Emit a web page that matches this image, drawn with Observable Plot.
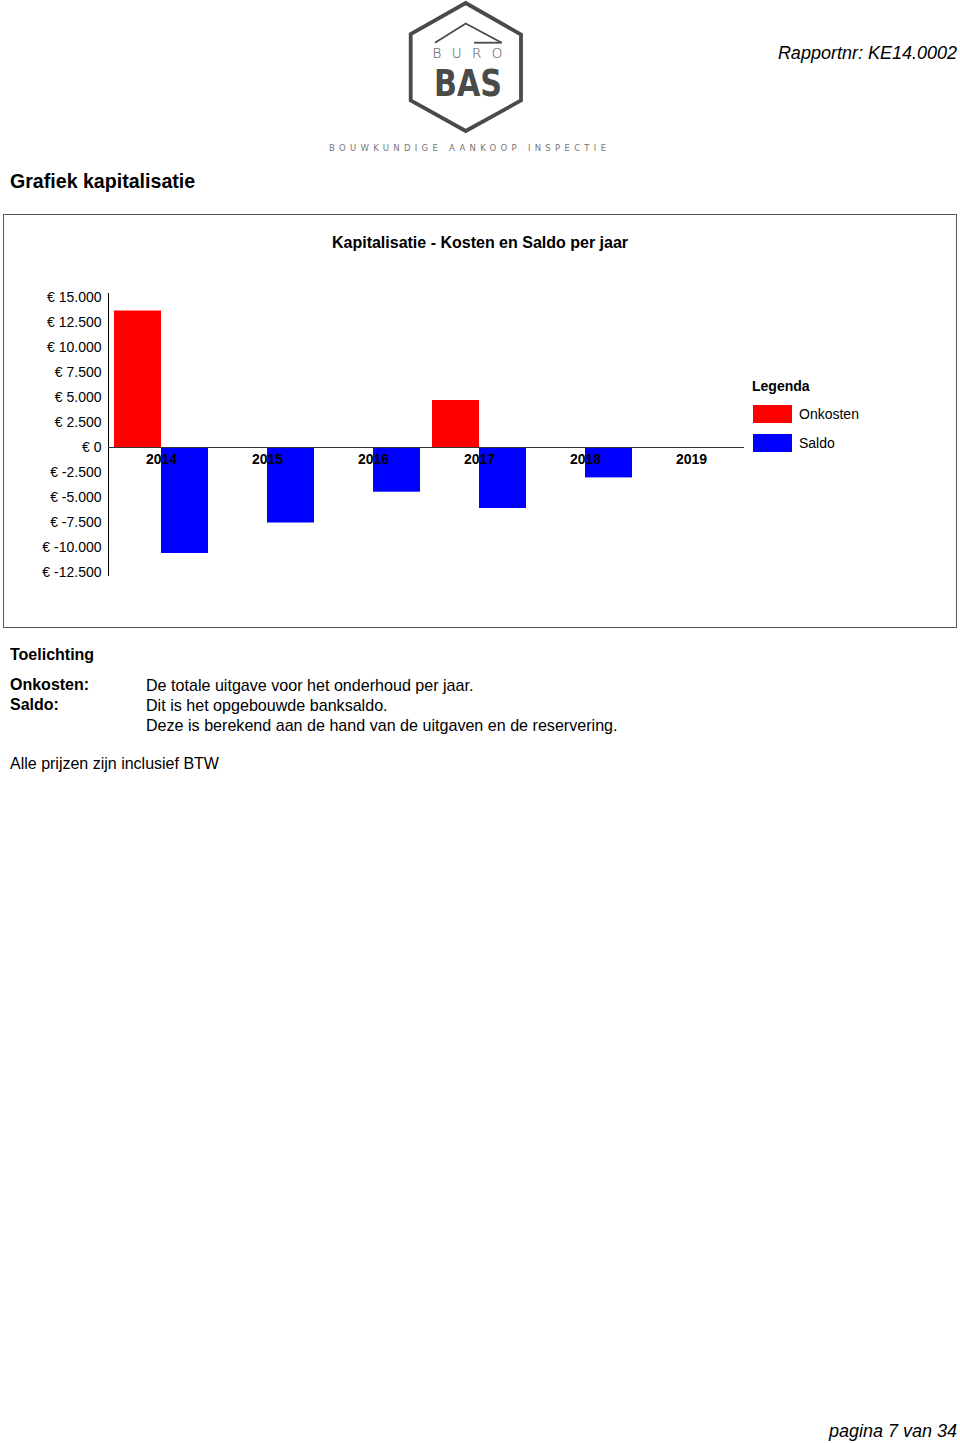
<!DOCTYPE html>
<html>
<head>
<meta charset="utf-8">
<script src="https://cdn.jsdelivr.net/npm/d3@7"></script>
<script src="https://cdn.jsdelivr.net/npm/@observablehq/plot@0.6"></script>
<style>
  html, body { margin: 0; padding: 0; background: #fff; }
  body { width: 960px; height: 1443px; position: relative; font-family: "Liberation Sans", Arial, Helvetica, sans-serif; color: #000; overflow: hidden; }
  .abs { position: absolute; white-space: nowrap; }
  #frame { position: absolute; left: 3px; top: 214px; width: 952px; height: 412px; border: 1px solid #555; }
  .sw { position: absolute; width: 39px; height: 18px; }
</style>
</head>
<body>
<svg class="abs" style="left:320px;top:0px" width="300" height="160" viewBox="0 0 300 160">
  <polygon points="145.7,3 201,34.5 201,100.5 145.7,131 90.7,100.5 90.7,34" fill="none" stroke="#4a4a48" stroke-width="3.8"/>
  <polyline points="115,42.7 145.7,23.5 181.7,42.7" fill="none" stroke="#4a4a48" stroke-width="1.8"/>
  <line x1="154" y1="42.7" x2="181.7" y2="42.7" stroke="#4a4a48" stroke-width="1.8"/>
  <text x="112.5" y="57.5" font-family="DejaVu Sans, sans-serif" font-weight="300" font-size="13.5" fill="#4a4a48" textLength="70" lengthAdjust="spacing">BURO</text>
  <text x="114" y="96" font-family="DejaVu Sans Condensed, DejaVu Sans, sans-serif" font-weight="bold" font-size="37" fill="#4a4a48" textLength="68" lengthAdjust="spacingAndGlyphs">BAS</text>
  <text x="9" y="151" font-family="DejaVu Sans, sans-serif" font-size="8.5" fill="#777" textLength="277" lengthAdjust="spacing">BOUWKUNDIGE AANKOOP INSPECTIE</text>
</svg>
<div class="abs" style="right:3px;top:43px;font-size:18px;line-height:20px;font-style:italic;">Rapportnr: KE14.0002</div>
<div class="abs" style="left:10px;top:169px;font-size:19.6px;line-height:24px;font-weight:bold;">Grafiek kapitalisatie</div>
<div id="frame"></div>
<div class="abs" style="left:0;width:960px;text-align:center;top:233px;font-size:16px;line-height:20px;font-weight:bold;">Kapitalisatie - Kosten en Saldo per jaar</div>
<div id="chart" class="abs" style="left:0;top:280px;"></div>
<div class="abs" style="left:752px;top:377px;font-size:14px;line-height:18px;font-weight:bold;">Legenda</div>
<div id="legend"></div>
<div class="abs" style="left:10px;top:645px;font-size:16px;line-height:20px;font-weight:bold;">Toelichting</div>
<div class="abs" style="left:10px;top:675px;font-size:16px;line-height:20px;font-weight:bold;">Onkosten:<br>Saldo:</div>
<div class="abs" style="left:146px;top:675px;font-size:16.1px;line-height:20px;">De totale uitgave voor het onderhoud per jaar.<br>Dit is het opgebouwde banksaldo.<br>Deze is berekend aan de hand van de uitgaven en de reservering.</div>
<div class="abs" style="left:10px;top:754px;font-size:16px;line-height:20px;">Alle prijzen zijn inclusief BTW</div>
<div class="abs" style="right:3px;top:1421px;font-size:18px;line-height:20px;font-style:italic;">pagina 7 van 34</div>
<script>
const years = ["2014", "2015", "2016", "2017", "2018", "2019"];
const seriesNames = ["Onkosten", "Saldo"];
const seriesColors = ["#ff0000", "#0000ff"];
const onkosten = [13650, 0, 0, 4700, 0, 0];
const saldo = [-10600, -7550, -4470, -6100, -3040, 0];
const yTicks = [15000, 12500, 10000, 7500, 5000, 2500, 0, -2500, -5000, -7500, -10000, -12500];

const table = years.flatMap((y, i) => [
  {year: y, series: seriesNames[0], value: onkosten[i]},
  {year: y, series: seriesNames[1], value: saldo[i]}
]);

const nl = d3.formatLocale({decimal: ",", thousands: ".", grouping: [3], currency: ["€ ", ""], minus: "-"});
const fmt = v => "€ " + nl.format(",")(v);

const chart = Plot.plot({
  width: 760,
  height: 310,
  marginLeft: 108,
  marginRight: 16,
  marginTop: 13,
  marginBottom: 15,
  style: {fontFamily: "'Liberation Sans', Arial, sans-serif", fontSize: "14px", color: "#000", background: "transparent", overflow: "visible"},
  fx: {domain: years, padding: 0, axis: null, label: null},
  x: {domain: seriesNames, axis: null, paddingInner: 0, paddingOuter: 0.116},
  y: {domain: [-12800, 15400], ticks: yTicks, tickFormat: fmt, tickSize: 0, tickPadding: 7, line: true, label: null},
  color: {domain: seriesNames, range: seriesColors},
  marks: [
    Plot.barY(table, {fx: "year", x: "series", y: "value", fill: "series"}),
    Plot.ruleY([0], {stroke: "#333", strokeWidth: 1}),
    Plot.text(years, {fx: d => d, y: d => 0, text: d => d, dy: 12.5, fontWeight: "bold", fontSize: 14, fill: "#000"})
  ]
});
document.getElementById("chart").appendChild(chart);

const legend = document.getElementById("legend");
seriesNames.forEach((name, i) => {
  const sw = document.createElement("div");
  sw.className = "sw";
  sw.style.left = "753px";
  sw.style.top = (405 + i * 29) + "px";
  sw.style.background = seriesColors[i];
  legend.appendChild(sw);
  const lab = document.createElement("div");
  lab.className = "abs";
  lab.style.left = "799px";
  lab.style.top = (405 + i * 29) + "px";
  lab.style.fontSize = "14px";
  lab.style.lineHeight = "18px";
  lab.textContent = name;
  legend.appendChild(lab);
});
</script>
</body>
</html>
